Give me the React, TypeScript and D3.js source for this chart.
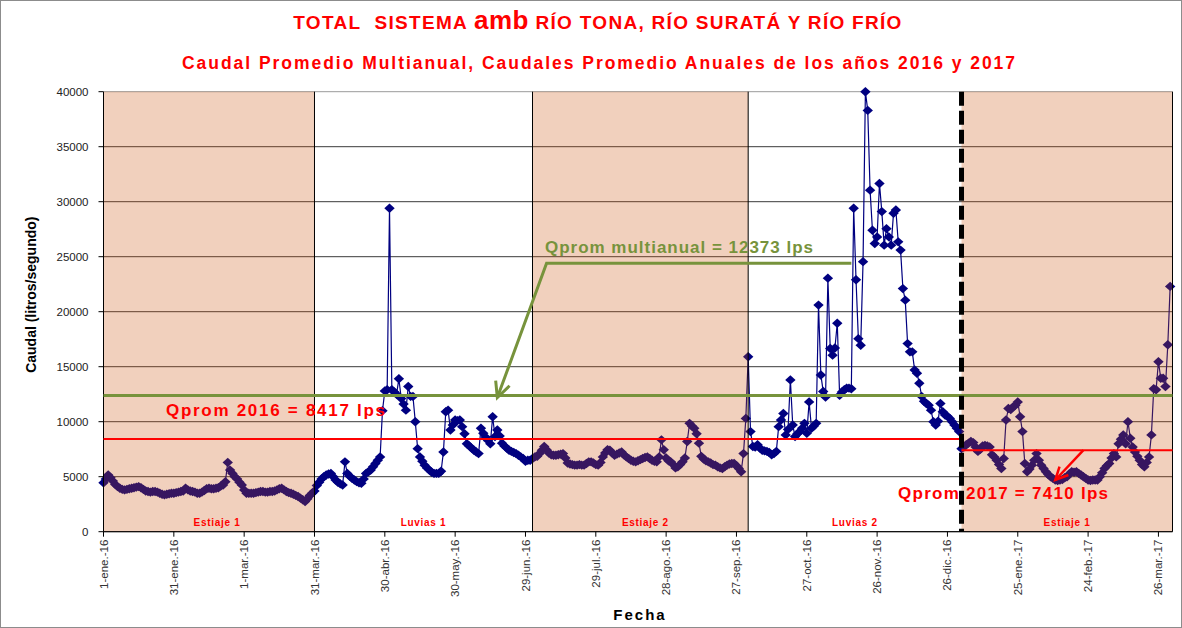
import React from 'react';
import * as d3 from 'd3';

// caudal diario (lps), mes a mes
const ene16 = [4450, 4800, 5150, 4900, 4600, 4300, 4100, 3950, 3850, 3800, 3850, 3900, 3950, 4000, 4050, 4100, 4000, 3850, 3700, 3650, 3600, 3650, 3650, 3600, 3500, 3400, 3350, 3400, 3450, 3500, 3500];
const feb16 = [3550, 3600, 3650, 3700, 3950, 3800, 3700, 3650, 3600, 3500, 3500, 3600, 3750, 3900, 3950, 3900, 3900, 3950, 4000, 4150, 4250, 4550, 6300, 5600, 5300, 5000, 4800, 4500, 4250];
const mar16 = [3800, 3500, 3500, 3500, 3500, 3550, 3600, 3650, 3650, 3600, 3600, 3650, 3650, 3700, 3800, 3900, 3950, 3800, 3650, 3550, 3500, 3400, 3300, 3200, 3050, 2900, 2750, 3000, 3300, 3500, 3700];
const abr16 = [4200, 4500, 4800, 5000, 5150, 5250, 5300, 5000, 4700, 4500, 4350, 4250, 6350, 5300, 5050, 4850, 4700, 4550, 4450, 4400, 4800, 5300, 5450, 5600, 5900, 6200, 6500, 6800, 11000, 12800];
const may16 = [12900, 29400, 12900, 12700, 12500, 13900, 12100, 11600, 11050, 13200, 12300, 12300, 10000, 7550, 6800, 6400, 6050, 5800, 5600, 5400, 5300, 5300, 5300, 5500, 7250, 10900, 11050, 9250, 9700, 10150, 10100];
const jun16 = [10150, 9550, 8900, 8000, 7800, 7600, 7400, 7250, 7100, 9400, 8950, 8600, 8300, 8000, 10450, 8650, 9250, 8700, 8050, 7800, 7600, 7400, 7300, 7200, 7100, 6950, 6800, 6650, 6400, 6500];
const jul16 = [6500, 6650, 6800, 6850, 7100, 7400, 7750, 7450, 7150, 7000, 6950, 6950, 7000, 7050, 7100, 6700, 6250, 6150, 6100, 6050, 6050, 6100, 6050, 6050, 6200, 6350, 6350, 6250, 6100, 6050, 6300];
const ago16 = [6800, 7150, 7450, 7400, 7150, 6950, 7050, 7150, 7250, 7000, 6800, 6650, 6500, 6400, 6350, 6450, 6550, 6650, 6750, 6800, 6650, 6500, 6400, 6350, 6800, 8350, 7450, 6700, 6450, 6350, 6100];
const sep16 = [5800, 5900, 6100, 6350, 6700, 8200, 9850, 9600, 9400, 8900, 8050, 6850, 6600, 6450, 6350, 6250, 6100, 6050, 5900, 5800, 5750, 5900, 6050, 6150, 6200, 6200, 6000, 5750, 5450, 7100];
const oct16 = [10300, 15900, 9100, 7750, 7700, 7900, 7600, 7400, 7350, 7300, 7200, 7000, 7100, 7300, 9550, 10150, 10750, 8800, 9300, 13800, 9700, 8650, 8900, 9100, 9400, 9850, 8950, 11800, 9400, 9600, 9850];
const nov16 = [20600, 14250, 12750, 12250, 23050, 16650, 16050, 16700, 18950, 12400, 12700, 12900, 13050, 13050, 13000, 29400, 22900, 17550, 16950, 24550, 40000, 38300, 31050, 27400, 26200, 26800, 31650, 29100, 26050, 27550];
const dic16 = [26800, 26050, 28950, 29250, 26350, 25600, 22100, 21050, 17100, 16350, 16350, 14700, 14400, 13500, 12300, 11850, 11650, 11500, 11050, 10000, 9700, 10050, 11650, 10900, 10600, 10500, 10300, 10000, 9700, 9400, 9100];
const ene17 = [7550, 7700, 7900, 8050, 8200, 8100, 7700, 7300, 7500, 7800, 7850, 7800, 7700, 7000, 6800, 6500, 6100, 5750, 6650, 10150, 11200, 11100, 11350, 11500, 11800, 10450, 9100, 6200, 5450, 5700, 6050];
const feb17 = [6500, 7100, 6500, 6050, 5750, 5450, 5200, 5000, 4850, 4700, 4650, 4700, 4750, 4900, 5000, 5250, 5450, 5400, 5450, 5300, 5150, 5000, 4850, 4700, 4650, 4700, 4700, 4700];
const mar17 = [5000, 5350, 5750, 6000, 6200, 6700, 7100, 6800, 8000, 8400, 8800, 8000, 10000, 8500, 7700, 7250, 6850, 6500, 6100, 5900, 6300, 6800, 8800, 13000, 12900, 15450, 13950, 13950, 13200, 17000, 22300];

const tickLabels = ['1-ene.-16', '31-ene.-16', '1-mar.-16', '31-mar.-16', '30-abr.-16', '30-may.-16', '29-jun.-16', '29-jul.-16', '28-ago.-16', '27-sep.-16', '27-oct.-16', '26-nov.-16', '26-dic.-16', '25-ene.-17', '24-feb.-17', '26-mar.-17'];
const yTicks = [0, 5000, 10000, 15000, 20000, 25000, 30000, 35000, 40000];

const periodLabels = ['Estiaje 1', 'Luvias 1', 'Estiaje 2', 'Luvias 2', 'Estiaje 1'];
const periodStarts = ['2016-01-01', '2016-03-31', '2016-07-02', '2016-10-02', '2017-01-01'];
const periodEnds = ['2016-03-31', '2016-07-02', '2016-10-02', '2017-01-01', '2017-04-01'];
const periodDry = [true, false, true, false, true];

const qMultianual = 12373;
const qProm2016 = 8417;
const qProm2017 = 7410;

const caudal = [...ene16, ...feb16, ...mar16, ...abr16, ...may16, ...jun16, ...jul16, ...ago16, ...sep16, ...oct16, ...nov16, ...dic16, ...ene17, ...feb17, ...mar17];
const start = new Date(Date.UTC(2016, 0, 1));
const fechas = caudal.map((_, i) => d3.utcDay.offset(start, i));
const serie = caudal.map((v, i) => ({ fecha: fechas[i], v }));

const W = 1182;
const H = 628;
const plot = { left: 103.5, right: 1172.5, top: 91.7, bottom: 531.7 };

const x = d3.scaleUtc()
  .domain([start, new Date(Date.UTC(2017, 3, 1))])
  .range([plot.left, plot.right]);
const y = d3.scaleLinear().domain([0, 40000]).range([plot.bottom, plot.top]);

const line = d3.line<{ fecha: Date; v: number }>()
  .x(d => x(d.fecha))
  .y(d => y(d.v));

const iso = (s: string) => new Date(s + 'T00:00:00Z');

const font = '"Liberation Sans", Arial, sans-serif';
const green = '#77933C';
const red = '#FF0000';
const navy = '#000080';

function arrowHead(x1: number, y1: number, x2: number, y2: number, len: number) {
  const a = Math.atan2(y2 - y1, x2 - x1);
  const s = 0.45;
  const p1 = [x2 - len * Math.cos(a - s), y2 - len * Math.sin(a - s)];
  const p2 = [x2 - len * Math.cos(a + s), y2 - len * Math.sin(a + s)];
  return `M${p1[0]},${p1[1]}L${x2},${y2}L${p2[0]},${p2[1]}`;
}

export default function App() {
  const xTicks = tickLabels.map((t, i) => ({ t, d: d3.utcDay.offset(start, 30 * i) }));
  const diamond = 'M0,-4.7L5.2,0L0,4.7L-5.2,0Z';

  // flecha verde (multianual)
  const gTip = [x(iso('2016-06-17')), y(qMultianual) + 2];
  const gKnee = [x(iso('2016-07-08')), y(24400)];
  const gEnd = [x(iso('2016-11-15')), y(24400)];
  // flecha roja (2017)
  const rStart = [x(iso('2017-02-22')), y(qProm2017)];
  const rTip = [x(iso('2017-02-10')), y(4700)];

  return (
    <svg width={W} height={H} style={{ position: 'absolute', left: 0, top: 0, background: '#fff' }}>
      <rect x={0.5} y={0.5} width={W - 1} height={H - 1} fill="#fff" stroke="#8c8c8c" />

      {/* grid */}
      {yTicks.map(t => (
        <line key={t} x1={plot.left} x2={plot.right} y1={y(t)} y2={y(t)}
          stroke={t === 40000 ? '#9a9a9a' : '#3a3a3a'} strokeWidth={1} />
      ))}

      {/* serie */}
      <path d={line(serie) ?? ''} fill="none" stroke={navy} strokeWidth={1.2} />
      {serie.map((d, i) => (
        <path key={i} d={diamond} transform={`translate(${x(d.fecha)},${y(d.v)})`} fill={navy} />
      ))}

      {/* periodos secos sombreados */}
      {periodLabels.map((l, i) => periodDry[i] ? (
        <rect key={i} x={x(iso(periodStarts[i]))} y={plot.top}
          width={x(iso(periodEnds[i])) - x(iso(periodStarts[i]))} height={plot.bottom - plot.top}
          fill="rgb(205,80,10)" fillOpacity={0.27} />
      ) : null)}

      {/* límites de periodos */}
      {periodStarts.slice(1).map(s => s === '2017-01-01' ? null : (
        <line key={s} x1={x(iso(s))} x2={x(iso(s))} y1={plot.top} y2={plot.bottom} stroke="#000" strokeWidth={1} />
      ))}
      <line x1={plot.right} x2={plot.right} y1={plot.top} y2={plot.bottom} stroke="#000" strokeWidth={1} />
      <line x1={plot.left} x2={plot.left} y1={plot.top} y2={plot.bottom} stroke="#000" strokeWidth={1} />
      <line x1={plot.left} x2={plot.right} y1={plot.bottom} y2={plot.bottom} stroke="#000" strokeWidth={1} />

      {/* promedios */}
      <line x1={plot.left} x2={plot.right} y1={y(qMultianual)} y2={y(qMultianual)} stroke={green} strokeWidth={3} />
      <line x1={plot.left} x2={x(iso('2017-01-01'))} y1={y(qProm2016)} y2={y(qProm2016)} stroke={red} strokeWidth={2} />
      <line x1={x(iso('2017-01-01'))} x2={plot.right} y1={y(qProm2017)} y2={y(qProm2017)} stroke={red} strokeWidth={2} />

      <line x1={x(iso('2017-01-01'))} x2={x(iso('2017-01-01'))} y1={plot.top} y2={plot.bottom}
        stroke="#000" strokeWidth={5} strokeDasharray="14 5" />

      {/* anotaciones */}
      <path d={`M${gEnd[0]},${gEnd[1]}L${gKnee[0]},${gKnee[1]}L${gTip[0]},${gTip[1]}`} fill="none" stroke={green} strokeWidth={3} />
      <path d={arrowHead(gKnee[0], gKnee[1], gTip[0], gTip[1], 17)} fill="none" stroke={green} strokeWidth={3} />
      <text x={545} y={253} fontFamily={font} fontWeight="bold" fontSize={17} fill={green}
        textLength={268} lengthAdjust="spacing">Qprom multianual = 12373 lps</text>

      <text x={166} y={416} fontFamily={font} fontWeight="bold" fontSize={17} fill={red}
        textLength={219} lengthAdjust="spacing">Qprom 2016 = 8417 lps</text>

      <path d={`M${rStart[0]},${rStart[1]}L${rTip[0]},${rTip[1]}`} fill="none" stroke={red} strokeWidth={2.5} />
      <path d={arrowHead(rStart[0], rStart[1], rTip[0], rTip[1], 14)} fill="none" stroke={red} strokeWidth={2.5} />
      <text x={898} y={499} fontFamily={font} fontWeight="bold" fontSize={17} fill={red}
        textLength={210} lengthAdjust="spacing">Qprom 2017 = 7410 lps</text>

      {periodLabels.map((l, i) => (
        <text key={i} x={(x(iso(periodStarts[i])) + x(iso(periodEnds[i]))) / 2 + (i === 0 ? 8 : i === 2 ? 5 : 0)} y={526}
          textAnchor="middle" fontFamily={font} fontWeight="bold" fontSize={10} letterSpacing={0.7} fill={red}>{l}</text>
      ))}

      {/* eje y */}
      {yTicks.map(t => (
        <g key={t}>
          <line x1={plot.left - 5} x2={plot.left} y1={y(t)} y2={y(t)} stroke="#000" />
          <text x={plot.left - 15} y={y(t)} dy="0.35em" textAnchor="end" fontFamily={font} fontSize={11.5} fill="#222">{t}</text>
        </g>
      ))}
      <text transform={`translate(36,${(plot.top + plot.bottom) / 2 - 17}) rotate(-90)`} textAnchor="middle"
        fontFamily={font} fontWeight="bold" fontSize={14} fill="#000">Caudal (litros/segundo)</text>

      {/* eje x */}
      {xTicks.map(({ t, d }) => (
        <g key={t}>
          <line x1={x(d)} x2={x(d)} y1={plot.bottom} y2={plot.bottom + 5} stroke="#000" />
          <text transform={`translate(${x(d)},${plot.bottom + 8}) rotate(-90)`} dy="0.35em" textAnchor="end"
            fontFamily={font} fontSize={11.5} fill="#333">{t}</text>
        </g>
      ))}
      <text x={640} y={620} textAnchor="middle" fontFamily={font} fontWeight="bold" fontSize={15}
        letterSpacing={2} fill="#000">Fecha</text>

      {/* títulos */}
      <text x={598} y={29} textAnchor="middle" fontFamily={font} fontWeight="bold" fontSize={19} fill={red}
        letterSpacing={1.3}>
        {'TOTAL\u00a0 SISTEMA '}<tspan fontSize={26} letterSpacing={0.5}>amb</tspan>{' RÍO TONA, RÍO SURATÁ Y RÍO FRÍO'}
      </text>
      <text x={182} y={69} fontFamily={font} fontWeight="bold" fontSize={17.5} fill={red}
        textLength={833} lengthAdjust="spacing">Caudal Promedio Multianual, Caudales Promedio Anuales de los años 2016 y 2017</text>
    </svg>
  );
}
